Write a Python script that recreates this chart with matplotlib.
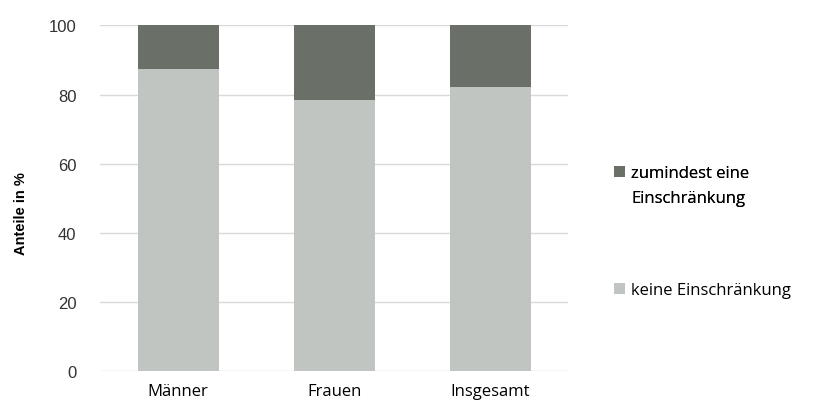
import matplotlib.pyplot as plt
from matplotlib.patches import Patch
import numpy as np

plt.rcParams['font.family'] = ['Open Sans', 'DejaVu Sans']

categories = ['Männer', 'Frauen', 'Insgesamt']
keine = [87.4, 78.5, 82.1]
zumindest = [100 - v for v in keine]

c_light = '#c1c5c2'
c_dark = '#6a7068'

fig = plt.figure(figsize=(8.21, 4.10), dpi=100)
ax = fig.add_axes([0.122, 0.0934, 0.570, 0.842])

x = np.arange(len(categories))
b1 = ax.bar(x, keine, width=0.52, color=c_light, zorder=2)
b2 = ax.bar(x, zumindest, bottom=keine, width=0.52, color=c_dark, zorder=2)

ax.set_xlim(-0.5, 2.5)
ax.set_ylim(0, 100)
ax.set_yticks(range(0, 101, 20))
ax.set_xticks(x)
ax.set_xticklabels(categories, fontsize=12)
ax.tick_params(axis='y', labelsize=12, length=0, pad=17)
ax.tick_params(axis='x', length=0, pad=9)
for lab in ax.get_yticklabels():
    lab.set_family('Liberation Sans')
    lab.set_color('#333333')
ax.grid(axis='y', color='#d9d9d9', linewidth=1, zorder=0)
for s in ax.spines.values():
    s.set_visible(False)

ax.set_ylabel('Anteile in %', fontsize=10.5, fontweight='bold', family='Liberation Sans')
ax.yaxis.set_label_coords(-0.154, 0.457)

# legend: first entry spans two lines, square next to the first line
blank = Patch(facecolor='none', edgecolor='none')
leg_kw = dict(loc='center left', frameon=False, fontsize=12, handlelength=0.66,
              handleheight=0.66, handletextpad=0.35, borderpad=0, borderaxespad=0)
leg1 = fig.legend([b2, blank], ['zumindest eine', 'Einschränkung'],
                  bbox_to_anchor=(0.748, 0.545), labelspacing=0.55, **leg_kw)
fig.add_artist(leg1)
fig.legend([b1], ['keine Einschränkung'], bbox_to_anchor=(0.748, 0.290), **leg_kw)

plt.savefig('out.png', dpi=100)
